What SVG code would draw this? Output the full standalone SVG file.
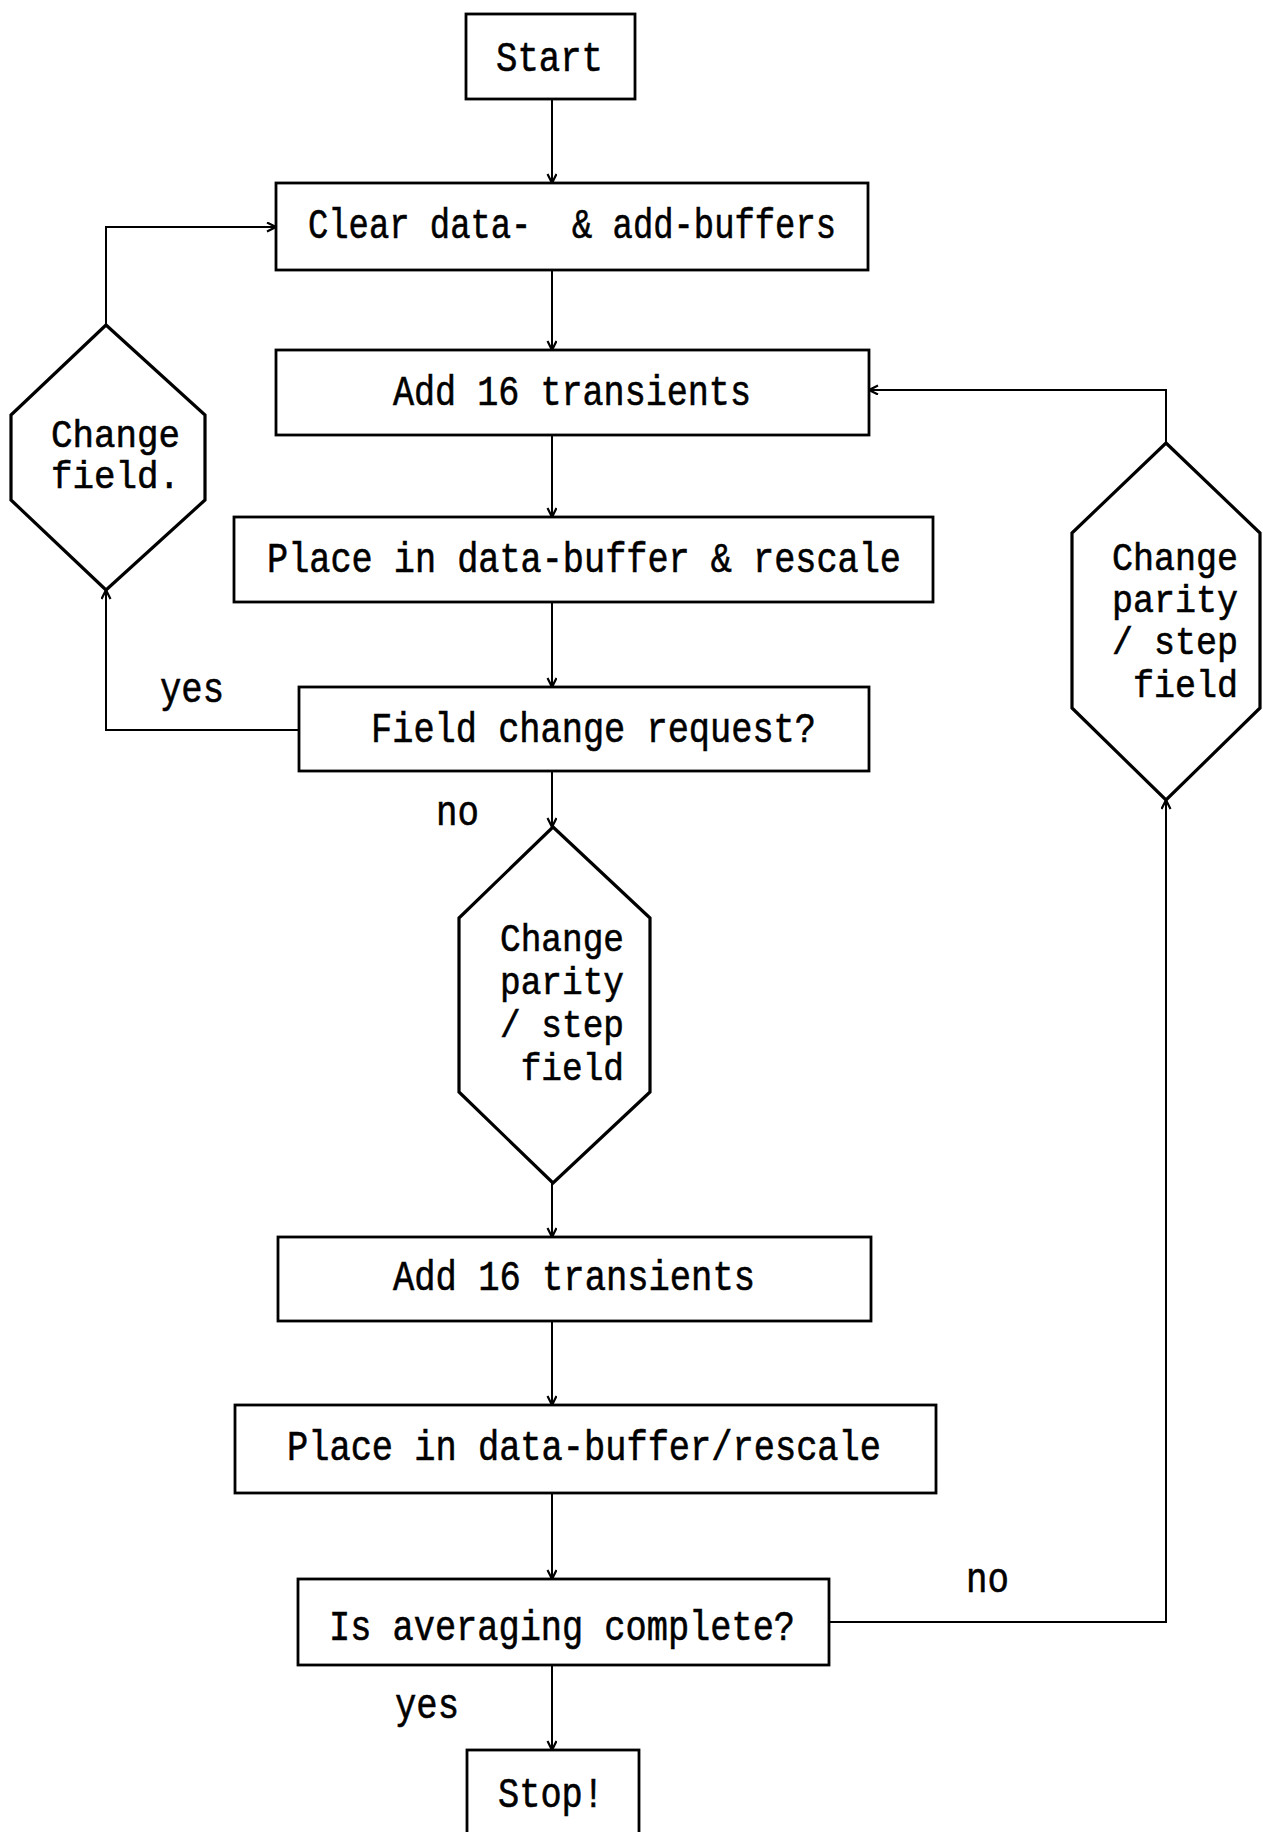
<svg xmlns="http://www.w3.org/2000/svg" width="1263" height="1832" viewBox="0 0 1263 1832">
<style>
.box{fill:#fff;stroke:#000;stroke-width:2.8}
.hex{fill:#fff;stroke:#000;stroke-width:3.2;stroke-linejoin:miter}
.con{fill:none;stroke:#000;stroke-width:2}
text{font-family:"Liberation Mono","DejaVu Sans Mono",monospace;font-size:42px;fill:#000;stroke:#000;stroke-width:0.6}
.hx{font-size:39px}
</style>
<defs>
<marker id="arr" markerUnits="userSpaceOnUse" markerWidth="14" markerHeight="14" refX="10" refY="5" orient="auto">
<path d="M1,0.5 L10,5 L1,9.5" fill="none" stroke="#000" stroke-width="2.2"/>
</marker>
</defs>
<rect width="1263" height="1832" fill="#fff"/>
<g id="connectors">
<line class="con" x1="552" y1="99" x2="552" y2="183" marker-end="url(#arr)"/>
<line class="con" x1="552" y1="270" x2="552" y2="350" marker-end="url(#arr)"/>
<line class="con" x1="552" y1="435" x2="552" y2="517" marker-end="url(#arr)"/>
<line class="con" x1="552" y1="602" x2="552" y2="687" marker-end="url(#arr)"/>
<line class="con" x1="552" y1="771" x2="552" y2="827" marker-end="url(#arr)"/>
<line class="con" x1="552" y1="1183" x2="552" y2="1237" marker-end="url(#arr)"/>
<line class="con" x1="552" y1="1321" x2="552" y2="1405" marker-end="url(#arr)"/>
<line class="con" x1="552" y1="1493" x2="552" y2="1579" marker-end="url(#arr)"/>
<line class="con" x1="552" y1="1665" x2="552" y2="1750" marker-end="url(#arr)"/>
<polyline class="con" points="299,730 106,730 106,590" marker-end="url(#arr)"/>
<polyline class="con" points="106,325 106,227 276,227" marker-end="url(#arr)"/>
<polyline class="con" points="829,1622 1166,1622 1166,800" marker-end="url(#arr)"/>
<polyline class="con" points="1166,443 1166,390 869,390" marker-end="url(#arr)"/>
<text x="160" y="702" textLength="64" lengthAdjust="spacingAndGlyphs">yes</text>
<text x="436" y="825" textLength="43" lengthAdjust="spacingAndGlyphs">no</text>
<text x="966" y="1592" textLength="43" lengthAdjust="spacingAndGlyphs">no</text>
<text x="395" y="1718" textLength="64" lengthAdjust="spacingAndGlyphs">yes</text>
</g>
<g id="start">
<rect class="box" x="466" y="14" width="169" height="85"/>
<text x="496" y="71" textLength="107" lengthAdjust="spacingAndGlyphs">Start</text>
</g>
<g id="clear">
<rect class="box" x="276" y="183" width="592" height="87"/>
<text x="308" y="238" textLength="528" lengthAdjust="spacingAndGlyphs" xml:space="preserve">Clear data-  &amp; add-buffers</text>
</g>
<g id="add1">
<rect class="box" x="276" y="350" width="593" height="85"/>
<text x="393" y="405" textLength="358" lengthAdjust="spacingAndGlyphs">Add 16 transients</text>
</g>
<g id="place1">
<rect class="box" x="234" y="517" width="699" height="85"/>
<text x="267" y="572" textLength="634" lengthAdjust="spacingAndGlyphs">Place in data-buffer &amp; rescale</text>
</g>
<g id="field">
<rect class="box" x="299" y="687" width="570" height="84"/>
<text x="371" y="742" textLength="445" lengthAdjust="spacingAndGlyphs">Field change request?</text>
</g>
<g id="hexLeft">
<polygon class="hex" points="106,325 205,415 205,500 106,590 11,500 11,415"/>
<text class="hx"><tspan x="51" y="447" textLength="129" lengthAdjust="spacingAndGlyphs">Change</tspan><tspan x="51" y="488" textLength="129" lengthAdjust="spacingAndGlyphs">field.</tspan></text>
</g>
<g id="hexCenter">
<polygon class="hex" points="553,827 650,918 650,1092 553,1183 459,1092 459,918"/>
<text class="hx" xml:space="preserve"><tspan x="500" y="951" textLength="124" lengthAdjust="spacingAndGlyphs">Change</tspan><tspan x="500" y="994" textLength="124" lengthAdjust="spacingAndGlyphs">parity</tspan><tspan x="500" y="1037" textLength="124" lengthAdjust="spacingAndGlyphs">/ step</tspan><tspan x="500" y="1080" textLength="124" lengthAdjust="spacingAndGlyphs"> field</tspan></text>
</g>
<g id="hexRight">
<polygon class="hex" points="1166,443 1260,533 1260,708 1166,800 1072,708 1072,533"/>
<text class="hx" xml:space="preserve"><tspan x="1112" y="570" textLength="126" lengthAdjust="spacingAndGlyphs">Change</tspan><tspan x="1112" y="612" textLength="126" lengthAdjust="spacingAndGlyphs">parity</tspan><tspan x="1112" y="654" textLength="126" lengthAdjust="spacingAndGlyphs">/ step</tspan><tspan x="1112" y="697" textLength="126" lengthAdjust="spacingAndGlyphs"> field</tspan></text>
</g>
<g id="add2">
<rect class="box" x="278" y="1237" width="593" height="84"/>
<text x="393" y="1290" textLength="362" lengthAdjust="spacingAndGlyphs">Add 16 transients</text>
</g>
<g id="place2">
<rect class="box" x="235" y="1405" width="701" height="88"/>
<text x="287" y="1460" textLength="594" lengthAdjust="spacingAndGlyphs">Place in data-buffer/rescale</text>
</g>
<g id="average">
<rect class="box" x="298" y="1579" width="531" height="86"/>
<text x="329" y="1640" textLength="466" lengthAdjust="spacingAndGlyphs">Is averaging complete?</text>
</g>
<g id="stop">
<rect class="box" x="467" y="1750" width="172" height="100"/>
<text x="498" y="1807" textLength="106" lengthAdjust="spacingAndGlyphs">Stop!</text>
</g>
</svg>
